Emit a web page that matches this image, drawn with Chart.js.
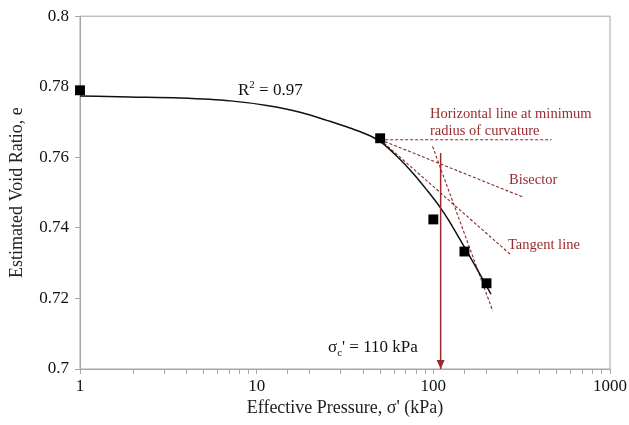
<!DOCTYPE html>
<html>
<head>
<meta charset="utf-8">
<script src="https://cdn.jsdelivr.net/npm/chart.js@4.4.1/dist/chart.umd.min.js"></script>
<style>
  html, body { margin: 0; padding: 0; background: #fff; }
  #wrap { width: 629px; height: 425px; position: relative; }
</style>
</head>
<body>
<div id="wrap"><canvas id="voidChart"></canvas></div>
<script>
// measured points (effective pressure kPa, void ratio)
const pointX = [1, 50, 100, 150, 200];
const pointY = [0.779, 0.7654, 0.7424, 0.7333, 0.7243];

// fitted curve
const curveX = [1, 1.9, 3.7, 7.1, 11.4, 17.6, 26, 33.7, 43.8, 49.9, 62.2, 76.7, 92, 109, 121, 151, 176.5, 201, 212];
const curveY = [0.7774, 0.7771, 0.7768, 0.7760, 0.7747, 0.7728, 0.7702, 0.7683, 0.7661, 0.7645,
                0.7603, 0.7555, 0.7507, 0.7459, 0.7425, 0.7343, 0.7284, 0.7233, 0.7212];

// construction lines (Casagrande)
const horizX = [50, 467];
const horizY = [0.765, 0.765];
const bisectX = [50, 323];
const bisectY = [0.765, 0.7487];
const tangentX = [50, 274];
const tangentY = [0.765, 0.7324];
const compX = [99, 217];
const compY = [0.7631, 0.7164];
const sigmaX = [110, 110];
const sigmaY = [0.7612, 0.7];

const yTicks = [0.7, 0.72, 0.74, 0.76, 0.78, 0.8];
const xTickLabels = [1, 10, 100, 1000];

const RED = '#9b2a2e';
const DASH_RED = '#852a2c';
const SERIF = '"Liberation Serif", "Times New Roman", serif';

function pts(xs, ys) {
    return xs.map((x, i) => ({ x: x, y: ys[i] }));
}

function dashed(xs, ys) {
    return {
        data: pts(xs, ys),
        showLine: true,
        borderColor: DASH_RED,
        borderWidth: 1.1,
        borderDash: [3, 2],
        pointRadius: 0
    };
}

// kotak abu-abu + teks anotasi + kepala panah
const extras = {
    id: 'extras',
    beforeDatasetsDraw(chart) {
        const { ctx, chartArea: a } = chart;
        ctx.save();
        ctx.strokeStyle = '#a6a6a6';
        ctx.lineWidth = 1;
        ctx.strokeRect(a.left, a.top, a.right - a.left, a.bottom - a.top);
        ctx.restore();
    },
    afterDatasetsDraw(chart) {
        const { ctx, scales: { x, y } } = chart;
        ctx.save();

        // arrow head
        const ax = x.getPixelForValue(sigmaX[1]);
        const ay = y.getPixelForValue(sigmaY[1]);
        ctx.fillStyle = RED;
        ctx.beginPath();
        ctx.moveTo(ax, ay);
        ctx.lineTo(ax - 4, ay - 9);
        ctx.lineTo(ax + 4, ay - 9);
        ctx.closePath();
        ctx.fill();

        ctx.textBaseline = 'alphabetic';
        ctx.textAlign = 'left';

        // R^2 label
        ctx.fillStyle = '#111';
        ctx.font = '17px ' + SERIF;
        let tx = 238, ty = 95;
        ctx.fillText('R', tx, ty);
        tx += ctx.measureText('R').width;
        ctx.font = '11px ' + SERIF;
        ctx.fillText('2', tx, ty - 7);
        tx += ctx.measureText('2').width;
        ctx.font = '17px ' + SERIF;
        ctx.fillText(' = 0.97', tx, ty);

        // sigma_c' label
        tx = 328; ty = 352;
        ctx.fillText('σ', tx, ty);
        tx += ctx.measureText('σ').width;
        ctx.font = '11px ' + SERIF;
        ctx.fillText('c', tx, ty + 4);
        tx += ctx.measureText('c').width;
        ctx.font = '17px ' + SERIF;
        ctx.fillText("' = 110 kPa", tx, ty);

        // red annotations
        ctx.fillStyle = RED;
        ctx.font = '14.5px ' + SERIF;
        ctx.fillText('Horizontal line at minimum', 430, 118);
        ctx.fillText('radius of curvature', 430, 135);
        ctx.fillText('Bisector', 509, 184);
        ctx.fillText('Tangent line', 508, 249);

        ctx.restore();
    }
};

const ctx = document.getElementById('voidChart').getContext('2d');
const voidChart = new Chart(ctx, {
    type: 'scatter',
    data: {
        datasets: [{
            data: pts(pointX, pointY),
            pointStyle: 'rect',
            pointRadius: 7,
            pointHoverRadius: 7,
            backgroundColor: '#000',
            borderColor: '#000',
            borderWidth: 0,
            clip: false
        }, {
            data: pts(sigmaX, sigmaY),
            showLine: true,
            borderColor: RED,
            borderWidth: 1.5,
            pointRadius: 0
        }, {
            data: pts(curveX, curveY),
            showLine: true,
            borderColor: '#111',
            borderWidth: 1.5,
            cubicInterpolationMode: 'monotone',
            pointRadius: 0
        },
            dashed(horizX, horizY),
            dashed(bisectX, bisectY),
            dashed(tangentX, tangentY),
            dashed(compX, compY)
        ]
    },
    options: {
        responsive: true,
        maintainAspectRatio: false,
        animation: false,
        events: [],
        layout: { padding: { left: 0, right: 19, top: 12, bottom: 0 } },
        plugins: {
            legend: { display: false },
            tooltip: { enabled: false }
        },
        scales: {
            x: {
                type: 'logarithmic',
                min: 1,
                max: 1000,
                afterFit: s => { s.height = 56; },
                grid: { drawOnChartArea: false, drawTicks: true, tickLength: 5, color: '#a6a6a6' },
                border: { color: '#a6a6a6' },
                ticks: {
                    autoSkip: false,
                    maxRotation: 0,
                    color: '#111',
                    padding: 2,
                    font: { family: SERIF, size: 17 },
                    callback: v => xTickLabels.includes(v) ? String(v) : ''
                },
                title: {
                    display: true,
                    text: "Effective Pressure, σ' (kPa)",
                    color: '#222',
                    font: { family: SERIF, size: 18 },
                    padding: { top: 0, bottom: 6 }
                }
            },
            y: {
                min: 0.7,
                max: 0.8,
                afterFit: s => { s.width = 80; },
                afterBuildTicks: s => { s.ticks = yTicks.map(v => ({ value: v })); },
                grid: { drawOnChartArea: false, drawTicks: true, tickLength: 5, color: '#a6a6a6' },
                border: { color: '#a6a6a6' },
                ticks: {
                    color: '#111',
                    padding: 6,
                    font: { family: SERIF, size: 17 },
                    callback: v => String(+v.toFixed(2))
                },
                title: {
                    display: true,
                    text: 'Estimated Void Ratio, e',
                    color: '#222',
                    font: { family: SERIF, size: 18 },
                    padding: { top: 6, bottom: 0 }
                }
            }
        }
    },
    plugins: [extras]
});
</script>
</body>
</html>
